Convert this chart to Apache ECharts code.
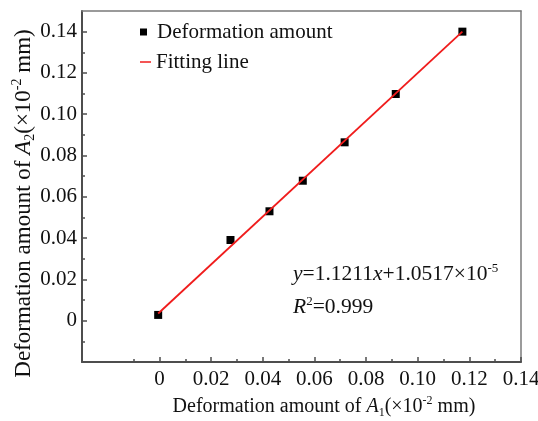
<!DOCTYPE html>
<html>
<head>
<meta charset="utf-8">
<script src="https://cdn.jsdelivr.net/npm/echarts@6/dist/echarts.min.js"></script>
<style>
  html, body { margin: 0; padding: 0; background: #fff; }
  #chart { width: 538px; height: 421px; }
</style>
</head>
<body>
<div id="chart"></div>
<script>
const deformA1 = [-0.0005, 0.0275, 0.0426, 0.0555, 0.0717, 0.0915, 0.1173];
const deformA2 = [0.0028, 0.0391, 0.0530, 0.0678, 0.0864, 0.1098, 0.1400];

// fitted line, drawn end to end
const fitX = [-0.0005, 0.1173];
const fitY = [0.0035, 0.1400];

// tick positions
const xMajorTicks = [0, 0.02, 0.04, 0.06, 0.08, 0.10, 0.12, 0.14];
const xMinorTicks = [-0.01, 0.01, 0.03, 0.05, 0.07, 0.09, 0.11, 0.13];
const yMajorTicks = [0, 0.02, 0.04, 0.06, 0.08, 0.10, 0.12, 0.14];
const yMinorTicks = [-0.01, 0.01, 0.03, 0.05, 0.07, 0.09, 0.11, 0.13];

const FONT = '"Liberation Serif", "Times New Roman", serif';
const AXIS_DARK = '#4d4d4d';
const AXIS_LIGHT = '#7a7a7a';

function tickText(v) {
  if (Math.abs(v) < 1e-9) return '0';
  return v.toFixed(2);
}

// rich styles for italic letters, sub and superscripts at a given size
function richFor(size) {
  const small = Math.round(size * 0.6);
  return {
    i: { fontStyle: 'italic', fontSize: size, lineHeight: size + 4, fontFamily: FONT, color: '#111' },
    sub: { fontSize: small, lineHeight: small, verticalAlign: 'bottom', fontFamily: FONT, color: '#111' },
    sup: { fontSize: small, lineHeight: small, verticalAlign: 'top', fontFamily: FONT, color: '#111' }
  };
}

const scatterData = deformA1.map((x, i) => [x, deformA2[i]]);
const fitData = fitX.map((x, i) => [x, fitY[i]]);

const chart = echarts.init(document.getElementById('chart'), null, { renderer: 'canvas' });

const option = {
  animation: false,
  backgroundColor: '#fff',
  textStyle: { fontFamily: FONT },
  grid: { left: 82, right: 17, top: 11, bottom: 59, outerBoundsMode: 'none', containLabel: false },
  legend: [
    {
      left: 140, top: 21, padding: 0,
      itemWidth: 7, itemHeight: 7,
      data: [{ name: 'Deformation amount', icon: 'rect' }],
      textStyle: { fontFamily: FONT, fontSize: 21, lineHeight: 22, color: '#111', padding: [0, 0, 0, 5] }
    },
    {
      left: 140, top: 51, padding: 0,
      itemWidth: 11, itemHeight: 1.5,
      data: [{ name: 'Fitting line', icon: 'rect' }],
      textStyle: { fontFamily: FONT, fontSize: 21, lineHeight: 22, color: '#111' }
    }
  ],
  xAxis: [
    {
      type: 'value', min: -0.03, max: 0.14, position: 'bottom',
      splitLine: { show: false },
      axisLine: { onZero: false, lineStyle: { color: AXIS_DARK, width: 2 } },
      axisTick: { inside: true, length: 5, customValues: xMajorTicks, lineStyle: { color: AXIS_DARK, width: 1.5 } },
      axisLabel: {
        customValues: xMajorTicks, formatter: tickText, margin: 7,
        fontFamily: FONT, fontSize: 21, lineHeight: 21, color: '#111'
      },
      name: 'Deformation amount of {i|A}{sub|1}(×10{sup|-2} mm)',
      nameLocation: 'middle', nameGap: 31,
      nameTextStyle: { fontFamily: FONT, fontSize: 20, lineHeight: 24, color: '#111', rich: richFor(20), padding: [0, 0, 0, 45] }
    },
    {
      type: 'value', min: -0.03, max: 0.14, position: 'bottom',
      splitLine: { show: false },
      axisLine: { show: false, onZero: false },
      axisTick: { inside: true, length: 3, customValues: xMinorTicks, lineStyle: { color: AXIS_DARK, width: 1.5 } },
      axisLabel: { show: false }
    },
    {
      type: 'value', min: -0.03, max: 0.14, position: 'top',
      splitLine: { show: false },
      axisLine: { onZero: false, lineStyle: { color: AXIS_LIGHT, width: 1.5 } },
      axisTick: { show: false },
      axisLabel: { show: false }
    }
  ],
  yAxis: [
    {
      type: 'value', min: -0.02, max: 0.15, position: 'left',
      splitLine: { show: false },
      axisLine: { onZero: false, lineStyle: { color: AXIS_DARK, width: 2 } },
      axisTick: { inside: true, length: 5, customValues: yMajorTicks, lineStyle: { color: AXIS_DARK, width: 1.5 } },
      axisLabel: {
        customValues: yMajorTicks, formatter: tickText, margin: 5,
        fontFamily: FONT, fontSize: 21, color: '#111'
      },
      name: 'Deformation amount of {i|A}{sub|2}(×10{sup|-2} mm)',
      nameLocation: 'middle', nameGap: 45, nameMoveOverlap: false,
      nameTextStyle: { fontFamily: FONT, fontSize: 23, lineHeight: 27, color: '#111', rich: richFor(23), padding: [0, 34, 0, 0] }
    },
    {
      type: 'value', min: -0.02, max: 0.15, position: 'left',
      splitLine: { show: false },
      axisLine: { show: false, onZero: false },
      axisTick: { inside: true, length: 3, customValues: yMinorTicks, lineStyle: { color: AXIS_DARK, width: 1.5 } },
      axisLabel: { show: false }
    },
    {
      type: 'value', min: -0.02, max: 0.15, position: 'right',
      splitLine: { show: false },
      axisLine: { onZero: false, lineStyle: { color: AXIS_LIGHT, width: 1.5 } },
      axisTick: { show: false },
      axisLabel: { show: false }
    }
  ],
  series: [
    {
      name: 'Deformation amount',
      type: 'scatter',
      symbol: 'rect',
      symbolSize: 8,
      itemStyle: { color: '#000', opacity: 1 },
      data: scatterData,
      z: 2
    },
    {
      name: 'Fitting line',
      type: 'line',
      showSymbol: false,
      lineStyle: { color: '#f01c1c', width: 1.8 },
      itemStyle: { color: '#f01c1c' },
      data: fitData,
      z: 3
    }
  ],
  graphic: [
    {
      type: 'text', left: 293, top: 262,
      style: {
        text: '{i|y}=1.1211{i|x}+1.0517×10{sup|-5}',
        fontFamily: FONT, fontSize: 21.5, lineHeight: 25, fill: '#111',
        rich: richFor(21.5)
      }
    },
    {
      type: 'text', left: 293, top: 295,
      style: {
        text: '{i|R}{sup|2}=0.999',
        fontFamily: FONT, fontSize: 21.5, lineHeight: 25, fill: '#111',
        rich: richFor(21.5)
      }
    }
  ]
};

chart.setOption(option);
</script>
</body>
</html>
